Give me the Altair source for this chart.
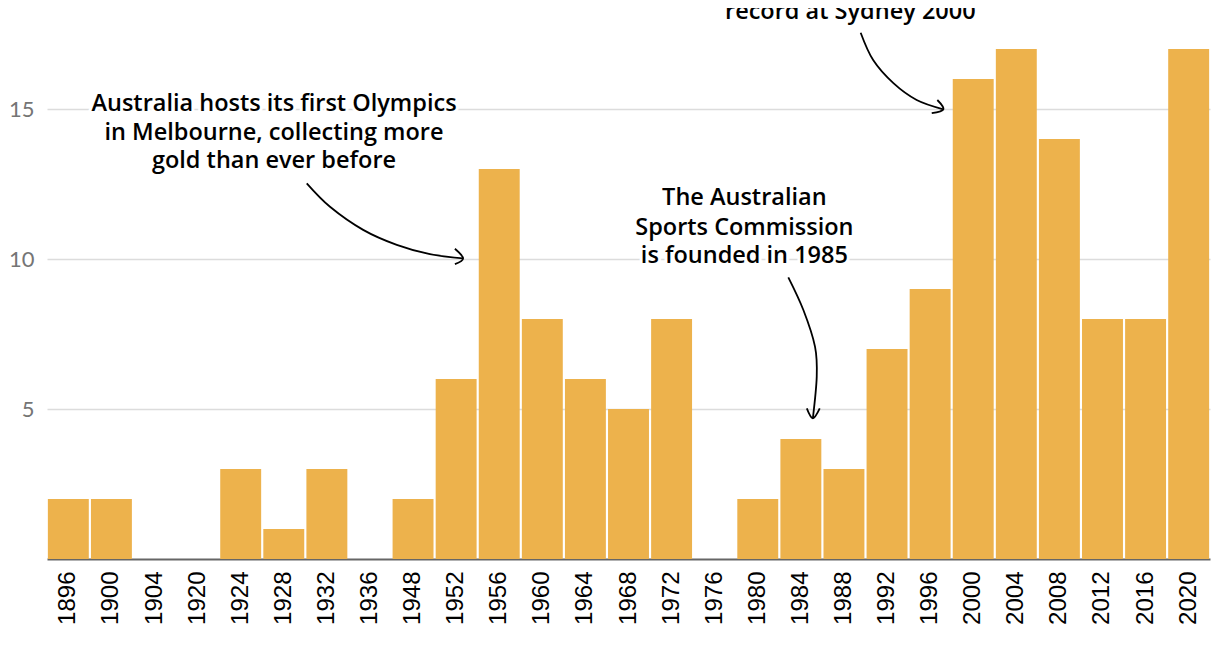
import altair as alt
import pandas as pd

years = ["1896", "1900", "1904", "1920", "1924", "1928", "1932", "1936", "1948",
         "1952", "1956", "1960", "1964", "1968", "1972", "1976", "1980", "1984",
         "1988", "1992", "1996", "2000", "2004", "2008", "2012", "2016", "2020"]
golds = [2, 2, 0, 0, 3, 1, 3, 0, 2, 6, 13, 8, 6, 5, 8, 0, 2, 4, 3, 7, 9, 16, 17, 14, 8, 8, 17]

# annotation text (x in bar-index units, y in medal units)
note_text = ["Australia hosts its first Olympics", "in Melbourne, collecting more",
             "gold than ever before",
             "The Australian", "Sports Commission", "is founded in 1985",
             "record at Sydney 2000"]
note_x = [5.27, 5.27, 5.27, 16.19, 16.19, 16.19, 18.65]
note_y = [15.17, 14.2, 13.27, 12.03, 11.03, 10.1, 18.23]

# arrows: curve + head, in bar-index / medal units
arrow_id = ["a1"] * 6 + ["h1"] * 3 + ["a2"] * 5 + ["h2"] * 3 + ["a3"] * 5 + ["h3"] * 3
arrow_x = [6.03, 6.57, 7.34, 8.12, 8.89, 9.66, 9.47, 9.66, 9.47,
           17.21, 17.56, 17.83, 17.87, 17.78, 17.64, 17.78, 17.94,
           18.89, 19.18, 19.65, 20.19, 20.81, 20.54, 20.81, 20.67]
arrow_y = [12.52, 11.74, 10.97, 10.47, 10.16, 10.02, 10.34, 10.02, 9.83,
           9.39, 8.3, 7.08, 6.08, 4.69, 5.02, 4.69, 5.02,
           17.54, 16.63, 15.86, 15.3, 14.99, 14.86, 14.99, 15.3]

W, H = 1163, 551
YMAX = 551 / 30

bars_df = pd.DataFrame({"year": years, "gold": golds})
notes_df = pd.DataFrame({"text": note_text, "x": note_x, "y": note_y})
arrows_df = pd.DataFrame({"id": arrow_id, "x": arrow_x, "y": arrow_y,
                          "order": list(range(len(arrow_x)))})

yscale = alt.Scale(domain=[0, YMAX], nice=False, zero=True)
qx = alt.Scale(domain=[0, 27], nice=False, zero=True)
yaxis = alt.Axis(title=None, values=[5, 10, 15], ticks=False, domain=False,
                 labelFont="Lato", labelFontSize=22, labelColor="#757575",
                 labelPadding=13, gridColor="#DCDCDC", gridWidth=1.5)

bars = alt.Chart(bars_df).mark_bar(color="#EDB24C").encode(
    x=alt.X("year:N", sort=years,
            scale=alt.Scale(paddingInner=0.05, paddingOuter=0.02),
            axis=alt.Axis(title=None, labelAngle=-90, labelFont="Liberation Sans",
                          labelFontSize=24, labelColor="#000000", labelPadding=12,
                          ticks=False, domainColor="#666666", domainWidth=2,
                          grid=False, labelBaseline="middle", labelAlign="right")),
    y=alt.Y("gold:Q", scale=yscale, axis=yaxis),
)

FONT = "Open Sans"
FS = 23.5
halo = alt.Chart(notes_df).mark_text(
    font=FONT, fontSize=FS, fontWeight=600, stroke="white", strokeWidth=6,
    fill="white", baseline="middle", align="center"
).encode(
    x=alt.X("x:Q", scale=qx, axis=None),
    y=alt.Y("y:Q", scale=yscale, axis=yaxis),
    text="text:N",
)
notes = alt.Chart(notes_df).mark_text(
    font=FONT, fontSize=FS, fontWeight=600, color="#000000",
    baseline="middle", align="center"
).encode(
    x=alt.X("x:Q", scale=qx, axis=None),
    y=alt.Y("y:Q", scale=yscale, axis=yaxis),
    text="text:N",
)
arrows = alt.Chart(arrows_df).mark_line(
    color="#000000", strokeWidth=1.8, interpolate="cardinal"
).encode(
    x=alt.X("x:Q", scale=qx, axis=None),
    y=alt.Y("y:Q", scale=yscale, axis=yaxis),
    detail="id:N",
    order="order:Q",
)

chart = alt.layer(bars, halo, notes, arrows).resolve_scale(x="independent").properties(
    width=W, height=H,
    autosize=alt.AutoSizeParams(type="none"),
    padding={"left": 39, "top": 0, "right": 2, "bottom": 90},
).configure_view(stroke=None)

chart.save("out.html", embed_options={"renderer": "svg", "actions": False})
